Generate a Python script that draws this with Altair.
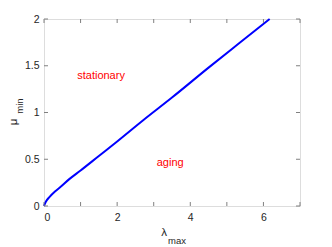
import altair as alt
import pandas as pd

lam = [0, 0.05, 0.16, 0.3, 0.44, 0.7, 1.0, 1.5, 2.0, 2.72, 3.5, 4.5, 5.3, 6.17]
mu = [0, 0.045, 0.10, 0.155, 0.20, 0.29, 0.38, 0.535, 0.69, 0.92, 1.16, 1.48, 1.73, 2.0]
x_ticks = [0, 1, 2, 3, 4, 5, 6, 7]
y_ticks = [0, 0.5, 1, 1.5, 2]
labels = ["stationary", "aging"]
label_x = [1.56, 3.45]
label_y = [1.39, 0.46]

W, H = 256, 187
FONT = "Liberation Sans"
AX = "#808080"

df = pd.DataFrame({"lam": lam, "mu": mu})
dl = pd.DataFrame({"t": labels, "x": label_x, "y": label_y})
dxt = pd.DataFrame({"v": x_ticks})
dyt = pd.DataFrame({"v": y_ticks})

xs = alt.Scale(domain=[0, 7], nice=False)
ys = alt.Scale(domain=[0, 2], nice=False)

xaxis = alt.Axis(values=x_ticks, title=None, grid=False, domain=False, ticks=False,
                 labelPadding=6, labelFont=FONT, labelFontSize=10.5, labelColor="#262626")
yaxis = alt.Axis(values=y_ticks, title=None, grid=False, domain=False, ticks=False,
                 labelPadding=5, labelFont=FONT, labelFontSize=10.5, labelColor="#262626",
                 labelExpr="datum.value == 0 ? '0' : format(datum.value, '~g')")

line = alt.Chart(df).mark_line(color="#0000ff", strokeWidth=2, interpolate="monotone").encode(
    x=alt.X("lam:Q", scale=xs, axis=xaxis),
    y=alt.Y("mu:Q", scale=ys, axis=yaxis),
)

text = alt.Chart(dl).mark_text(color="#ff0000", font=FONT, fontSize=11).encode(
    x=alt.X("x:Q", scale=xs), y=alt.Y("y:Q", scale=ys), text="t:N"
)

tk = 4
xb = alt.Chart(dxt).mark_rule(color=AX, strokeWidth=1).encode(
    x=alt.X("v:Q", scale=xs), y=alt.value(H), y2=alt.value(H - tk))
xt = alt.Chart(dxt).mark_rule(color=AX, strokeWidth=1).encode(
    x=alt.X("v:Q", scale=xs), y=alt.value(0), y2=alt.value(tk))
yl = alt.Chart(dyt).mark_rule(color=AX, strokeWidth=1).encode(
    y=alt.Y("v:Q", scale=ys), x=alt.value(0), x2=alt.value(tk))
yr = alt.Chart(dyt).mark_rule(color=AX, strokeWidth=1).encode(
    y=alt.Y("v:Q", scale=ys), x=alt.value(W), x2=alt.value(W - tk))

def lbl(t, x, y, size, angle=0):
    return alt.Chart(pd.DataFrame({"t": [t]})).mark_text(
        font=FONT, fontSize=size, color="#262626", angle=angle, align="center", baseline="middle"
    ).encode(text="t:N", x=alt.value(x), y=alt.value(y))

xl1 = lbl("λ", 120, 214, 11.5)
xl2 = lbl("max", 133, 222, 9.5)
yl1 = lbl("μ", -30, 103, 11.5, 270)
yl2 = lbl("min", -24, 87, 9.5, 270)

chart = alt.layer(line, text, xb, xt, yl, yr, xl1, xl2, yl1, yl2).properties(
    width=W, height=H,
    autosize=alt.AutoSizeParams(type="none"),
    padding={"left": 36, "top": 11, "right": 24, "bottom": 40},
).configure_view(stroke=AX, strokeWidth=1).configure(background="white")

chart.save("out.html", embed_options={"renderer": "svg", "actions": False})
